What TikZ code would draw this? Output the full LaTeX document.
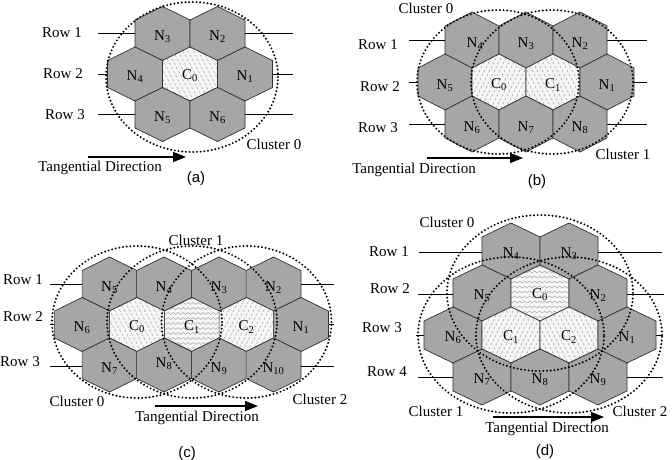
\documentclass[tikz,border=0pt]{standalone}
\usepackage{fontspec}
\setmainfont{Liberation Serif}
\newfontfamily\capfont{Liberation Sans}
\usetikzlibrary{arrows.meta,decorations.pathmorphing}
\definecolor{cellgray}{RGB}{166,166,166}
\definecolor{edgegray}{RGB}{50,50,50}
\definecolor{hatchgray}{RGB}{160,160,160}
\definecolor{cbg}{RGB}{246,246,246}
\newcommand{\ha}{27.5}
\newcommand{\hR}{27}
\newcommand{\hexcell}[2]{\path[cell] ({#1-\ha},{#2-0.5*\hR}) -- ({#1},{#2-\hR}) -- ({#1+\ha},{#2-0.5*\hR}) -- ({#1+\ha},{#2+0.5*\hR}) -- ({#1},{#2+\hR}) -- ({#1-\ha},{#2+0.5*\hR}) -- cycle;}
\newcommand{\ccell}[3]{%
  \path[cfill] ({#1-\ha},{#2-0.5*\hR}) -- ({#1},{#2-\hR}) -- ({#1+\ha},{#2-0.5*\hR}) -- ({#1+\ha},{#2+0.5*\hR}) -- ({#1},{#2+\hR}) -- ({#1-\ha},{#2+0.5*\hR}) -- cycle;
  \begin{scope}
    \clip ({#1-\ha},{#2-0.5*\hR}) -- ({#1},{#2-\hR}) -- ({#1+\ha},{#2-0.5*\hR}) -- ({#1+\ha},{#2+0.5*\hR}) -- ({#1},{#2+\hR}) -- ({#1-\ha},{#2+0.5*\hR}) -- cycle;
    \ifcase#3\or
      \foreach \k in {-60,-55,...,60} \draw[hatch] ({#1+\k-14},{#2-\hR}) -- ({#1+\k+14},{#2+\hR});
    \or
      \foreach \k in {-60,-55,...,60} \draw[hatch] ({#1+\k+14},{#2-\hR}) -- ({#1+\k-14},{#2+\hR});
    \or
      \foreach \k in {-26,-21,...,26} \draw[wavy] ({#1-\ha-3},{#2+\k}) -- ({#1+\ha+3},{#2+\k});
    \fi
  \end{scope}
  \path[celledge] ({#1-\ha},{#2-0.5*\hR}) -- ({#1},{#2-\hR}) -- ({#1+\ha},{#2-0.5*\hR}) -- ({#1+\ha},{#2+0.5*\hR}) -- ({#1},{#2+\hR}) -- ({#1-\ha},{#2+0.5*\hR}) -- cycle;}
\tikzset{
  cell/.style={fill=cellgray,draw=edgegray,line width=0.7pt},
  cfill/.style={fill=cbg},
  celledge/.style={draw=edgegray,line width=0.7pt},
  hatch/.style={draw=hatchgray,line width=0.5pt,dash pattern=on 2.5pt off 2pt},
  wavy/.style={draw=hatchgray,line width=0.45pt,decorate,decoration={snake,amplitude=1pt,segment length=5pt}},
  rowline/.style={draw=black,line width=0.8pt},
  clus/.style={draw=black,line width=2.2pt,line cap=round,dash pattern=on 0pt off 3.7pt},
  tarrow/.style={draw=black,line width=1.1pt,-{Triangle[length=13pt,width=10pt]}},
  txt/.style={font=\fontsize{15}{17}\selectfont,inner sep=0pt},
  lbl/.style={font=\fontsize{15}{17}\selectfont,inner sep=0pt},
  figcap/.style={font=\capfont\fontsize{15}{17}\selectfont,inner sep=0pt}
}
\begin{document}
\begin{tikzpicture}[x=1pt,y=-1pt]
\fill[white] (0,0) rectangle (672,460);
\useasboundingbox (0,0) rectangle (672,460);

% ================= (a) =================
\begin{scope}
\def\ha{27.5}\def\hR{27}
\coordinate (a-r1s) at (98,33.5); \coordinate (a-r1e) at (293,33.5);
\coordinate (a-r2s) at (98,74); \coordinate (a-r2e) at (293,74);
\coordinate (a-r3s) at (98,114.5); \coordinate (a-r3e) at (293,114.5);
\draw[rowline] (a-r1s) -- (a-r1e);
\draw[rowline] (a-r2s) -- (a-r2e);
\draw[rowline] (a-r3s) -- (a-r3e);
\hexcell{162.5}{33.5}\hexcell{217.5}{33.5}
\hexcell{135}{74}\ccell{190}{74}{1}\hexcell{245}{74}
\hexcell{162.5}{114.5}\hexcell{217.5}{114.5}
\node[lbl] (a-N3) at (162.5,37) {N\textsubscript{3}};
\node[lbl] (a-N2) at (217.5,37) {N\textsubscript{2}};
\node[lbl] (a-N4) at (135,77) {N\textsubscript{4}};
\node[lbl] (a-C0) at (190,76) {C\textsubscript{0}};
\node[lbl] (a-N1) at (245,77) {N\textsubscript{1}};
\node[lbl] (a-N5) at (162.5,118) {N\textsubscript{5}};
\node[lbl] (a-N6) at (217.5,118) {N\textsubscript{6}};
\coordinate (a-e0) at (192,77);
\draw[clus] (a-e0) ellipse [x radius=86pt,y radius=75pt];
\node[txt] (a-row1) at (62,33) {Row 1};
\node[txt] (a-row2) at (63,74) {Row 2};
\node[txt] (a-row3) at (65,115) {Row 3};
\node[txt] (a-cl0) at (274,144) {Cluster 0};
\coordinate (a-as) at (88,157); \coordinate (a-ae) at (186,157);
\draw[tarrow] (a-as) -- (a-ae);
\node[txt] (a-tan) at (100,168) {Tangential Direction};
\node[figcap] (a-cap) at (196,179) {(a)};
\end{scope}

% ================= (b) =================
\begin{scope}
\def\ha{27}\def\hR{28}
\coordinate (b-r1s) at (409,40); \coordinate (b-r1e) at (647,40);
\coordinate (b-r2s) at (409,82); \coordinate (b-r2e) at (647,82);
\coordinate (b-r3s) at (409,124); \coordinate (b-r3e) at (647,124);
\draw[rowline] (b-r1s) -- (b-r1e);
\draw[rowline] (b-r2s) -- (b-r2e);
\draw[rowline] (b-r3s) -- (b-r3e);
\hexcell{472}{40}\hexcell{526}{40}\hexcell{580}{40}
\hexcell{445}{82}\ccell{499}{82}{2}\ccell{553}{82}{1}\hexcell{607}{82}
\hexcell{472}{124}\hexcell{526}{124}\hexcell{580}{124}
\node[lbl] (b-N4) at (475,44) {N\textsubscript{4}};
\node[lbl] (b-N3) at (526,44) {N\textsubscript{3}};
\node[lbl] (b-N2) at (580,44) {N\textsubscript{2}};
\node[lbl] (b-N5) at (445,86) {N\textsubscript{5}};
\node[lbl] (b-C0) at (499,85) {C\textsubscript{0}};
\node[lbl] (b-C1) at (553,85) {C\textsubscript{1}};
\node[lbl] (b-N1) at (607,86) {N\textsubscript{1}};
\node[lbl] (b-N6) at (472,128) {N\textsubscript{6}};
\node[lbl] (b-N7) at (526,128) {N\textsubscript{7}};
\node[lbl] (b-N8) at (580,128) {N\textsubscript{8}};
\coordinate (b-e0) at (498,82); \coordinate (b-e1) at (552,82);
\draw[clus] (b-e0) ellipse [x radius=81pt,y radius=72pt];
\draw[clus] (b-e1) ellipse [x radius=81pt,y radius=72pt];
\node[txt] (b-row1) at (378,45) {Row 1};
\node[txt] (b-row2) at (380,87) {Row 2};
\node[txt] (b-row3) at (378,128) {Row 3};
\node[txt] (b-cl0) at (426,8) {Cluster 0};
\node[txt] (b-cl1) at (623,154) {Cluster 1};
\coordinate (b-as) at (427,158); \coordinate (b-ae) at (523,158);
\draw[tarrow] (b-as) -- (b-ae);
\node[txt] (b-tan) at (414,170) {Tangential Direction};
\node[figcap] (b-cap) at (537,182) {(b)};
\end{scope}

% ================= (c) =================
\begin{scope}
\def\ha{27.4}\def\hR{27}
\coordinate (c-r1s) at (50,284); \coordinate (c-r1e) at (334,284);
\coordinate (c-r2s) at (50,324.5); \coordinate (c-r2e) at (334,324.5);
\coordinate (c-r3s) at (50,366); \coordinate (c-r3e) at (334,366);
\draw[rowline] (c-r1s) -- (c-r1e);
\draw[rowline] (c-r2s) -- (c-r2e);
\draw[rowline] (c-r3s) -- (c-r3e);
\hexcell{109.5}{284}\hexcell{164}{284}\hexcell{219}{284}\hexcell{273.5}{284}
\hexcell{82}{324.5}\ccell{137}{324.5}{1}\ccell{192}{324.5}{3}\ccell{246.5}{324.5}{2}\hexcell{301}{324.5}
\hexcell{109.5}{365}\hexcell{164}{365}\hexcell{219}{365}\hexcell{273.5}{365}
\node[lbl] (c-N5) at (109.5,288) {N\textsubscript{5}};
\node[lbl] (c-N4) at (164,288) {N\textsubscript{4}};
\node[lbl] (c-N3) at (219,288) {N\textsubscript{3}};
\node[lbl] (c-N2) at (273.5,288) {N\textsubscript{2}};
\node[lbl] (c-N6) at (82,328) {N\textsubscript{6}};
\node[lbl] (c-C0) at (137,327) {C\textsubscript{0}};
\node[lbl] (c-C1) at (192,327) {C\textsubscript{1}};
\node[lbl] (c-C2) at (246.5,327) {C\textsubscript{2}};
\node[lbl] (c-N1) at (301,328) {N\textsubscript{1}};
\node[lbl] (c-N7) at (109.5,369) {N\textsubscript{7}};
\node[lbl] (c-N8) at (164,364) {N\textsubscript{8}};
\node[lbl] (c-N9) at (219,369) {N\textsubscript{9}};
\node[lbl] (c-N10) at (273.5,369) {N\textsubscript{10}};
\coordinate (c-e0) at (137,322); \coordinate (c-e1) at (192,322); \coordinate (c-e2) at (246.5,322);
\draw[clus] (c-e0) ellipse [x radius=85pt,y radius=76pt];
\draw[clus] (c-e1) ellipse [x radius=85pt,y radius=76pt];
\draw[clus] (c-e2) ellipse [x radius=85pt,y radius=76pt];
\node[txt] (c-row1) at (23,280) {Row 1};
\node[txt] (c-row2) at (23,317) {Row 2};
\node[txt] (c-row3) at (20,362) {Row 3};
\node[txt] (c-cl1) at (196,240) {Cluster 1};
\node[txt] (c-cl0) at (77,401) {Cluster 0};
\node[txt] (c-cl2) at (320,399) {Cluster 2};
\coordinate (c-as) at (155,406); \coordinate (c-ae) at (258,406);
\draw[tarrow] (c-as) -- (c-ae);
\node[txt] (c-tan) at (197,418) {Tangential Direction};
\node[figcap] (c-cap) at (187,454) {(c)};
\end{scope}

% ================= (d) =================
\begin{scope}
\def\ha{29}\def\hR{28}
\coordinate (d-r1s) at (419,252); \coordinate (d-r1e) at (662,252);
\coordinate (d-r2s) at (418,294); \coordinate (d-r2e) at (664,294);
\coordinate (d-r3s) at (416,335); \coordinate (d-r3e) at (663,335);
\coordinate (d-r4s) at (418,377); \coordinate (d-r4e) at (663,377);
\draw[rowline] (d-r1s) -- (d-r1e);
\draw[rowline] (d-r2s) -- (d-r2e);
\draw[rowline] (d-r3s) -- (d-r3e);
\draw[rowline] (d-r4s) -- (d-r4e);
\hexcell{511}{251}\hexcell{569}{251}
\hexcell{482}{293}\ccell{540}{293}{3}\hexcell{598}{293}
\hexcell{453}{335}\ccell{511}{335}{2}\ccell{569}{335}{1}\hexcell{627}{335}
\hexcell{482}{377}\hexcell{540}{377}\hexcell{598}{377}
\node[lbl] (d-N4) at (511,254) {N\textsubscript{4}};
\node[lbl] (d-N3) at (569,254) {N\textsubscript{3}};
\node[lbl] (d-N5) at (482,296) {N\textsubscript{5}};
\node[lbl] (d-C0) at (540,295) {C\textsubscript{0}};
\node[lbl] (d-N2) at (598,296) {N\textsubscript{2}};
\node[lbl] (d-N6) at (453,338) {N\textsubscript{6}};
\node[lbl] (d-C1) at (511,337) {C\textsubscript{1}};
\node[lbl] (d-C2) at (569,337) {C\textsubscript{2}};
\node[lbl] (d-N1) at (627,338) {N\textsubscript{1}};
\node[lbl] (d-N7) at (482,380) {N\textsubscript{7}};
\node[lbl] (d-N8) at (540,380) {N\textsubscript{8}};
\node[lbl] (d-N9) at (598,380) {N\textsubscript{9}};
\coordinate (d-e0) at (540,293); \coordinate (d-e1) at (511,335); \coordinate (d-e2) at (569,335);
\draw[clus] (d-e0) ellipse [x radius=93pt,y radius=78pt];
\draw[clus] (d-e1) ellipse [x radius=93pt,y radius=78pt];
\draw[clus] (d-e2) ellipse [x radius=93pt,y radius=78pt];
\node[txt] (d-row1) at (389,252) {Row 1};
\node[txt] (d-row2) at (390,289) {Row 2};
\node[txt] (d-row3) at (382,328) {Row 3};
\node[txt] (d-row4) at (387,372) {Row 4};
\node[txt] (d-cl0) at (447,222) {Cluster 0};
\node[txt] (d-cl1) at (436,411) {Cluster 1};
\node[txt] (d-cl2) at (640,411) {Cluster 2};
\coordinate (d-as) at (493,417); \coordinate (d-ae) at (604,417);
\draw[tarrow] (d-as) -- (d-ae);
\node[txt] (d-tan) at (547,429) {Tangential Direction};
\node[figcap] (d-cap) at (545,452) {(d)};
\end{scope}
\end{tikzpicture}
\end{document}
